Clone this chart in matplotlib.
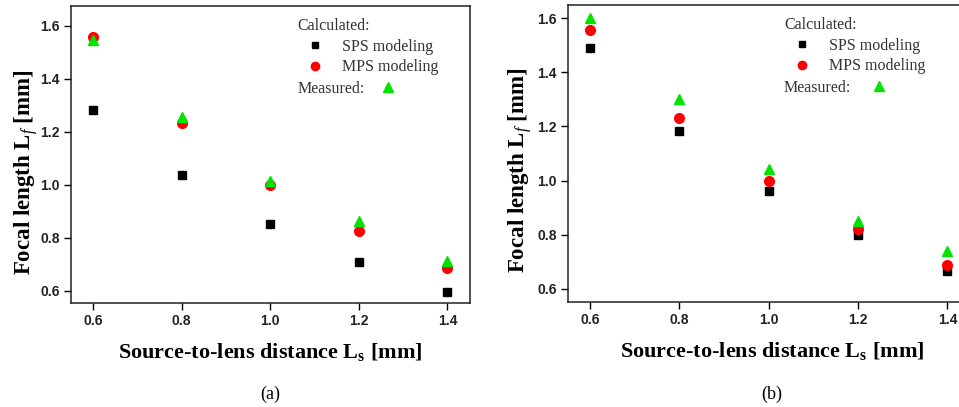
"""
Focal length vs source-to-lens distance, panels (a) and (b).
Output: out.png (959x407)
"""
import matplotlib; matplotlib.use('Agg')
import matplotlib.pyplot as plt
from matplotlib.lines import Line2D

# source-to-lens distance Ls [mm]
LS = [0.6, 0.8, 1.0, 1.2, 1.4]

# panel (a)
SPS_A  = [1.281, 1.038, 0.853, 0.708, 0.594]
MPS_A  = [1.556, 1.232, 1.000, 0.825, 0.687]
MEAS_A = [1.545, 1.254, 1.014, 0.864, 0.713]

# panel (b)
SPS_B  = [1.489, 1.183, 0.963, 0.800, 0.667]
MPS_B  = [1.556, 1.231, 1.000, 0.822, 0.687]
MEAS_B = [1.600, 1.300, 1.042, 0.850, 0.741]

XTICKS = [0.6, 0.8, 1.0, 1.2, 1.4]
YTICKS = [0.6, 0.8, 1.0, 1.2, 1.4, 1.6]

plt.rcParams['mathtext.fontset'] = 'custom'
plt.rcParams['mathtext.rm'] = 'Liberation Serif:bold'
plt.rcParams['mathtext.it'] = 'Liberation Serif:italic'

SERIF = 'Liberation Serif'
SANS = 'Liberation Sans'
GREEN = '#00e400'

W, H = 959, 407
fig = plt.figure(figsize=(W/100, H/100), dpi=100)

def px_axes(x0, y0, x1, y1):
    return fig.add_axes([x0/W, 1-y1/H, (x1-x0)/W, (y1-y0)/H])

def panel(ax, sps, mps, meas, xlim, ylim, leg_x, leg_meas_pad, ylab_xy, xlab_x, tag):
    ax.plot(LS, sps, 's', color='black', ms=6, ls='none')
    ax.plot(LS, mps, 'o', color='red', ms=7, ls='none')
    ax.plot(LS, meas, '^', color=GREEN, ms=7.5, ls='none')
    ax.set_xlim(*xlim); ax.set_ylim(*ylim)
    ax.set_xticks(XTICKS); ax.set_yticks(YTICKS)
    ax.set_xticklabels([f'{v:.1f}' for v in XTICKS])
    ax.set_yticklabels([f'{v:.1f}' for v in YTICKS])
    ax.tick_params(direction='out', length=5, width=1.0, pad=3, top=False, right=False)
    for lb in ax.get_xticklabels() + ax.get_yticklabels():
        lb.set_fontfamily(SANS); lb.set_fontweight('bold'); lb.set_fontsize(10); lb.set_color('#222')
    for s in ax.spines.values():
        s.set_linewidth(1.1); s.set_color('#222')

    ax.set_ylabel(r'Focal length L$_\mathit{f}$ [mm]', fontfamily=SERIF, fontweight='bold', fontsize=16.5)
    ax.yaxis.set_label_coords(*ylab_xy)
    ax.yaxis.label.set_verticalalignment('center')
    ax.set_xlabel(r'Source-to-lens distance L$_\mathrm{s}$ [mm]', fontfamily=SERIF, fontweight='bold', fontsize=16)
    ax.xaxis.set_label_coords(xlab_x, -0.165)
    ax.xaxis.label.set_verticalalignment('center')

    h_sps = Line2D([], [], marker='s', color='black', ms=5, ls='none')
    h_mps = Line2D([], [], marker='o', color='red', ms=6, ls='none')
    h_meas = Line2D([], [], marker='^', color=GREEN, ms=6.5, ls='none')
    leg1 = ax.legend([h_sps, h_mps], ['SPS modeling', 'MPS modeling'], title='Calculated:',
                     loc='upper left', bbox_to_anchor=(leg_x, 0.958), frameon=False,
                     borderpad=0, borderaxespad=0, handlelength=2.2, handletextpad=0.6,
                     labelspacing=0.28, alignment='left',
                     prop={'family': SERIF, 'size': 11.5},
                     title_fontproperties={'family': SERIF, 'size': 11.5})
    for t in leg1.get_texts() + [leg1.get_title()]:
        t.set_color('#333')
    ax.add_artist(leg1)
    leg2 = ax.legend([h_meas], ['Measured:'], loc='upper left', bbox_to_anchor=(leg_x, 0.748),
                     frameon=False, borderpad=0, borderaxespad=0, handlelength=1.0,
                     handletextpad=leg_meas_pad, markerfirst=False,
                     prop={'family': SERIF, 'size': 11.5})
    for t in leg2.get_texts():
        t.set_color('#333')

    fig.text((ax.get_position().x0 + ax.get_position().width*xlab_x), 1-394/H, tag,
             ha='center', va='center', fontfamily=SERIF, fontsize=13)

ax_a = px_axes(71, 6, 470, 303)
panel(ax_a, SPS_A, MPS_A, MEAS_A, (0.55, 1.451), (0.554, 1.674), 0.568, 0.95,
      (-0.113, 0.44), 0.5, '(a)')

ax_b = px_axes(567.7, 5, 966.7, 302.3)
panel(ax_b, SPS_B, MPS_B, MEAS_B, (0.55, 1.443), (0.55, 1.649), 0.542, 1.25,
      (-0.12, 0.445), 0.512, '(b)')

fig.savefig('out.png', dpi=100)
